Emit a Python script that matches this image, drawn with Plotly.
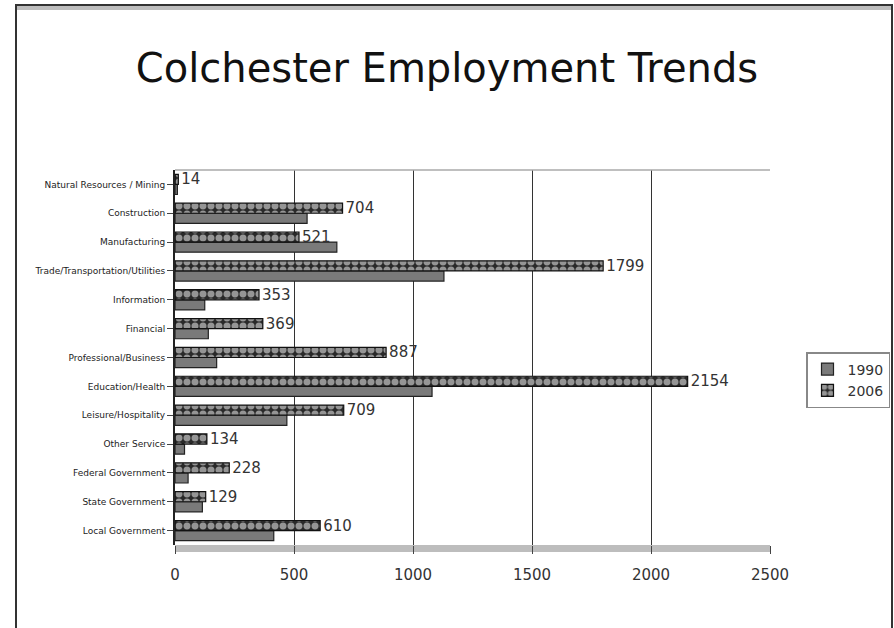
import plotly.graph_objects as go

# Employment by sector, Colchester
sectors = [
    "Natural Resources / Mining",
    "Construction",
    "Manufacturing",
    "Trade/Transportation/Utilities",
    "Information",
    "Financial",
    "Professional/Business",
    "Education/Health",
    "Leisure/Hospitality",
    "Other Service",
    "Federal Government",
    "State Government",
    "Local Government",
]
jobs_1990 = [10, 555, 680, 1130, 125, 140, 175, 1080, 470, 40, 55, 115, 415]
jobs_2006 = [14, 704, 521, 1799, 353, 369, 887, 2154, 709, 134, 228, 129, 610]
x_ticks = [0, 500, 1000, 1500, 2000, 2500]

# plot area in pixels
W, H = 894, 628
L, R, T, B = 175, 124, 170, 83
pw, ph = W - L - R, H - T - B

fig = go.Figure()
fig.add_trace(go.Bar(
    name="1990", y=sectors, x=jobs_1990, orientation="h",
    marker=dict(color="#7a7a7a", line=dict(color="#222", width=1.2)),
))
fig.add_trace(go.Bar(
    name="2006", y=sectors, x=jobs_2006, orientation="h",
    marker=dict(color="#2a2a2a", line=dict(color="#111", width=1.2),
                pattern=dict(shape=".", fgcolor="white", bgcolor="#2a2a2a",
                             size=8, solidity=0.6)),
    text=[str(v) for v in jobs_2006], textposition="outside",
    constraintext="none",
    textfont=dict(family="DejaVu Sans", size=15, color="#333"),
    cliponaxis=False,
))

# outer frame of the chart
px = lambda x: (x - L) / pw
py = lambda y: (H - B - y) / ph
shapes = [
    dict(type="rect", xref="paper", yref="paper",
         x0=px(16), x1=px(892), y0=py(700), y1=py(5),
         line=dict(color="#333", width=2), fillcolor="rgba(0,0,0,0)", layer="below"),
    dict(type="rect", xref="paper", yref="paper",
         x0=px(17), x1=px(891), y0=py(10), y1=py(6),
         line=dict(width=0), fillcolor="#bdbdbd", layer="below"),
    # floor of the plot
    dict(type="rect", xref="paper", yref="paper",
         x0=0, x1=1, y0=py(552), y1=py(545),
         line=dict(width=0), fillcolor="#bdbdbd", layer="below"),
    # top edge of the plot area
    dict(type="line", xref="paper", yref="paper",
         x0=0, x1=1, y0=1, y1=1, line=dict(color="#aaa", width=1.5)),
]

fig.update_layout(
    width=W, height=H,
    margin=dict(l=L, r=R, t=T, b=B, pad=0, autoexpand=False),
    paper_bgcolor="white", plot_bgcolor="white",
    title=dict(text="Colchester Employment Trends", x=0.5, xref="container",
               y=1 - 68 / H, yanchor="middle",
               font=dict(family="DejaVu Sans", size=40, color="#111")),
    barmode="group", bargap=0.3, bargroupgap=0.0,
    shapes=shapes,
    legend=dict(x=px(806), y=py(380), xanchor="left", yanchor="middle",
                bordercolor="#888", borderwidth=1.5, bgcolor="white",
                font=dict(family="DejaVu Sans", size=14, color="#333"),
                itemwidth=30, tracegroupgap=0),
    font=dict(family="DejaVu Sans", color="#333"),
)
fig.update_xaxes(range=[0, 2500], tickvals=x_ticks, ticktext=[str(v) for v in x_ticks],
                 showgrid=True, gridcolor="#333", gridwidth=1.2,
                 zeroline=False, showline=False,
                 ticks="outside", ticklen=8, tickcolor="#444",
                 ticklabelstandoff=8,
                 tickfont=dict(family="DejaVu Sans", size=15, color="#333"))
fig.update_yaxes(categoryorder="array", categoryarray=sectors[::-1],
                 showline=True, linecolor="#222", linewidth=2,
                 ticks="outside", ticklen=6, tickcolor="#444",
                 tickfont=dict(family="DejaVu Sans", size=9, color="#222"),
                 showgrid=False)

fig.write_html("out.html")
